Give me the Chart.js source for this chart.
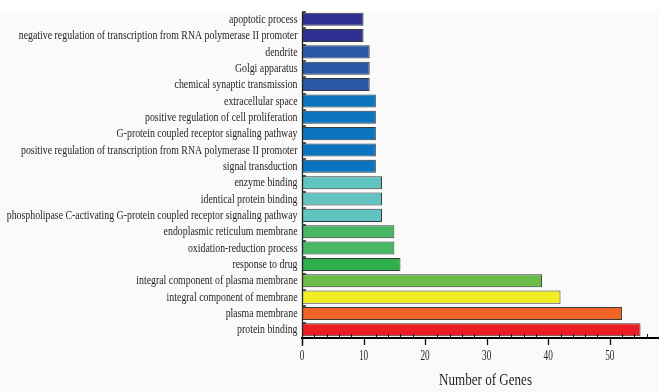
<!DOCTYPE html>
<html>
<head>
<meta charset="utf-8">
<script src="https://cdn.jsdelivr.net/npm/chart.js@4/dist/chart.umd.min.js"></script>
<style>
  html, body { margin: 0; padding: 0; background: #ffffff; }
  #wrap { width: 659px; height: 392px; position: relative; }
</style>
</head>
<body>
<div id="wrap"><canvas id="chart" width="659" height="392"></canvas></div>
<script>
// GO terms, top to bottom
const categories = [
  'apoptotic process',
  'negative regulation of transcription from RNA polymerase II promoter',
  'dendrite',
  'Golgi apparatus',
  'chemical synaptic transmission',
  'extracellular space',
  'positive regulation of cell proliferation',
  'G-protein coupled receptor signaling pathway',
  'positive regulation of transcription from RNA polymerase II promoter',
  'signal transduction',
  'enzyme binding',
  'identical protein binding',
  'phospholipase C-activating G-protein coupled receptor signaling pathway',
  'endoplasmic reticulum membrane',
  'oxidation-reduction process',
  'response to drug',
  'integral component of plasma membrane',
  'integral component of membrane',
  'plasma membrane',
  'protein binding'
];

// Number of genes per term
const geneCounts = [10, 10, 11, 11, 11, 12, 12, 12, 12, 12, 13, 13, 13, 15, 15, 16, 39, 42, 52, 55];

// Labelled ticks on the count axis
const xTickLabels = [0, 10, 20, 30, 40, 50];
const axisTitle = 'Number of Genes';

// Bar fill colours, one per term
const barColors = [
  '#2e3192', '#2e3192',
  '#2b58a6', '#2b58a6', '#2b58a6',
  '#0a74c0', '#0a74c0', '#0a74c0', '#0a74c0', '#0a74c0',
  '#62c4c0', '#62c4c0', '#62c4c0',
  '#47b764', '#47b764',
  '#2eb04b',
  '#6cbd47',
  '#f3ec23',
  '#f06526',
  '#ec1c24'
];

const TEXT_COLOR = '#231f20';
const SERIF = '"Liberation Serif", "Times New Roman", serif';

function drawText(ctx, text, x, y, align, size, stretch) {
  ctx.save();
  ctx.font = size + 'px ' + SERIF;
  ctx.fillStyle = TEXT_COLOR;
  ctx.textAlign = align;
  ctx.textBaseline = 'middle';
  ctx.translate(x, y);
  ctx.scale(stretch, 1);
  ctx.fillText(text, 0, 0);
  ctx.restore();
}

// Page background and hand-drawn axis furniture / condensed serif labels
const decorations = {
  id: 'decorations',
  beforeDraw(chart) {
    const ctx = chart.ctx;
    ctx.save();
    ctx.fillStyle = '#ffffff';
    ctx.fillRect(0, 0, chart.width, chart.height);
    ctx.fillStyle = '#fafafa';
    ctx.fillRect(0, 11, chart.width, chart.height - 11);
    ctx.restore();
  },
  afterDraw(chart) {
    const ctx = chart.ctx;
    const xs = chart.scales.x;
    const ys = chart.scales.y;
    const area = chart.chartArea;

    // vertical axis line, running a little past the horizontal axis
    ctx.save();
    ctx.strokeStyle = '#222222';
    ctx.lineWidth = 1.3;
    ctx.beginPath();
    ctx.moveTo(area.left + 0.5, area.top + 1);
    ctx.lineTo(area.left + 0.5, area.bottom + 8);
    ctx.stroke();

    // small inward marks at category boundaries
    ctx.lineWidth = 1.5;
    for (let i = 0; i < categories.length; i++) {
      const py = Math.round(ys.getPixelForValue(i - 0.5)) + 1;
      ctx.beginPath();
      ctx.moveTo(area.left, py);
      ctx.lineTo(area.left + 4, py);
      ctx.stroke();
    }

    // minor ticks (every 2 genes) pointing up, major ticks pointing down
    ctx.strokeStyle = '#111111';
    ctx.lineWidth = 1;
    for (let v = 2; v <= 56; v += 2) {
      if (v % 10 === 0) continue;
      const px = Math.round(xs.getPixelForValue(v)) + 0.5;
      ctx.beginPath();
      ctx.moveTo(px, area.bottom - 1);
      ctx.lineTo(px, area.bottom - 4);
      ctx.stroke();
    }
    ctx.lineWidth = 1.3;
    xTickLabels.forEach(v => {
      const px = Math.round(xs.getPixelForValue(v)) + 0.5;
      ctx.beginPath();
      ctx.moveTo(px, area.bottom + 1);
      ctx.lineTo(px, area.bottom + 7);
      ctx.stroke();
    });
    ctx.restore();

    // category labels
    categories.forEach((c, i) => {
      drawText(ctx, c, area.left - 4.5, ys.getPixelForValue(i) + 0.5, 'right', 12, 0.82);
    });

    // count tick labels
    xTickLabels.forEach(v => {
      drawText(ctx, String(v), xs.getPixelForValue(v), area.bottom + 18, 'center', 14, 0.66);
    });

    // axis title
    drawText(ctx, axisTitle, (area.left + area.right) / 2 + 5, 381, 'center', 17, 0.77);
  }
};

new Chart(document.getElementById('chart'), {
  type: 'bar',
  data: {
    labels: categories,
    datasets: [{
      data: geneCounts,
      backgroundColor: barColors,
      borderColor: '#3a3a3a',
      borderWidth: 1,
      borderSkipped: false,
      barPercentage: 0.8,
      categoryPercentage: 1.0
    }]
  },
  options: {
    indexAxis: 'y',
    responsive: false,
    animation: false,
    devicePixelRatio: 1,
    layout: { padding: { top: 11, left: 0, right: 0, bottom: 0 } },
    plugins: {
      legend: { display: false },
      tooltip: { enabled: false },
      title: { display: false }
    },
    scales: {
      x: {
        type: 'linear',
        min: 0,
        max: 58,
        grid: { display: false },
        border: { display: true, color: '#000000', width: 2 },
        ticks: { display: false, stepSize: 2 },
        afterFit(scale) { scale.height = 54; }
      },
      y: {
        type: 'category',
        offset: true,
        grid: { display: false },
        border: { display: false },
        ticks: { display: false },
        afterFit(scale) { scale.width = 302; }
      }
    }
  },
  plugins: [decorations]
});
</script>
</body>
</html>
